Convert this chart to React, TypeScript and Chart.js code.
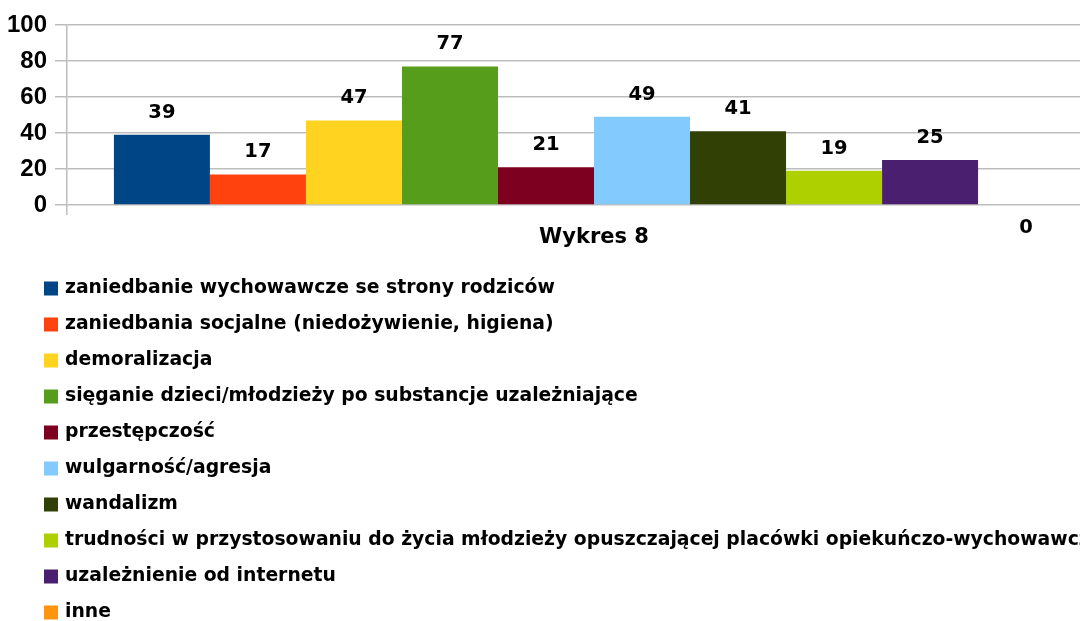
import React, { useEffect, useRef } from "react";
import { Chart, registerables } from "chart.js";

Chart.register(...registerables);

const categories = ["Wykres 8"];
const seriesNames = [
  "zaniedbanie wychowawcze se strony rodziców",
  "zaniedbania socjalne (niedożywienie, higiena)",
  "demoralizacja",
  "sięganie dzieci/młodzieży po substancje uzależniające",
  "przestępczość",
  "wulgarność/agresja",
  "wandalizm",
  "trudności w przystosowaniu do życia młodzieży opuszczającej placówki opiekuńczo-wychowawcze",
  "uzależnienie od internetu",
  "inne",
];
const seriesValues = [39, 17, 47, 77, 21, 49, 41, 19, 25, 0];
const seriesColors = [
  "#004586",
  "#ff420e",
  "#ffd320",
  "#579d1c",
  "#7e0021",
  "#83caff",
  "#314004",
  "#aecf00",
  "#4b1f6f",
  "#ff950e",
];
const yMin = 0;
const yMax = 100;
const yStep = 20;

const GRID = "#bdbdbd";

const valueLabels = {
  id: "valueLabels",
  afterDatasetsDraw(chart: any) {
    const ctx = chart.ctx;
    ctx.save();
    ctx.font = 'bold 19.5px "DejaVu Sans"';
    ctx.fillStyle = "#000";
    ctx.textAlign = "center";
    ctx.textBaseline = "middle";
    chart.data.datasets.forEach((ds: any, i: number) => {
      const meta = chart.getDatasetMeta(i);
      meta.data.forEach((el: any, j: number) => {
        const v = ds.data[j] as number;
        const { x, y } = el.getProps(["x", "y"], true);
        ctx.fillText(String(v), x, v === 0 ? y + 23 : y - 22);
      });
    });
    ctx.restore();
  },
};

const sideLegend = {
  id: "sideLegend",
  afterDraw(chart: any) {
    const ctx = chart.ctx;
    ctx.save();
    ctx.font = 'bold 18.8px "DejaVu Sans"';
    ctx.textAlign = "left";
    ctx.textBaseline = "middle";
    const top = chart.chartArea.bottom + 83.5;
    chart.data.datasets.forEach((ds: any, i: number) => {
      const cy = top + i * 36;
      ctx.fillStyle = ds.backgroundColor;
      ctx.fillRect(44, cy - 7, 14, 14);
      ctx.fillStyle = "#000";
      ctx.fillText(ds.label, 65, cy);
    });
    ctx.restore();
  },
};

export default function App() {
  const ref = useRef<HTMLCanvasElement>(null);
  useEffect(() => {
    const canvas = ref.current!;
    const chart = new Chart(canvas, {
      type: "bar",
      data: {
        labels: categories,
        datasets: seriesNames.map((name, i) => ({
          label: name,
          data: [seriesValues[i]],
          backgroundColor: seriesColors[i],
          borderWidth: 0,
          categoryPercentage: 0.911,
          barPercentage: 1,
        })),
      },
      options: {
        responsive: false,
        animation: false,
        layout: { padding: { top: 25, right: 9, bottom: 366, left: 0 } },
        plugins: { legend: { display: false }, tooltip: { enabled: false } },
        scales: {
          x: {
            grid: {
              display: true,
              drawOnChartArea: false,
              tickLength: 10,
              color: GRID,
              lineWidth: 1.5,
            },
            border: { display: false },
            ticks: {
              color: "#000",
              padding: 10,
              font: { family: "DejaVu Sans", size: 21, weight: "bold" },
            },
            afterFit: (s: any) => {
              s.height = 50;
            },
          },
          y: {
            min: yMin,
            max: yMax,
            ticks: {
              stepSize: yStep,
              color: "#000",
              padding: 8,
              font: { family: "Liberation Sans", size: 24, weight: "bold" },
            },
            grid: { tickLength: 12, color: GRID, lineWidth: 1.5 },
            border: { display: true, color: GRID, width: 1.5 },
            afterFit: (s: any) => {
              s.width = 67;
            },
          },
        },
      } as any,
      plugins: [valueLabels, sideLegend],
    });
    return () => chart.destroy();
  }, []);

  return (
    <div
      style={{
        position: "absolute",
        left: 0,
        top: 0,
        width: 1080,
        height: 621,
        overflow: "hidden",
        background: "#fff",
      }}
    >
      <canvas ref={ref} width={1130} height={621} style={{ display: "block" }} />
    </div>
  );
}
